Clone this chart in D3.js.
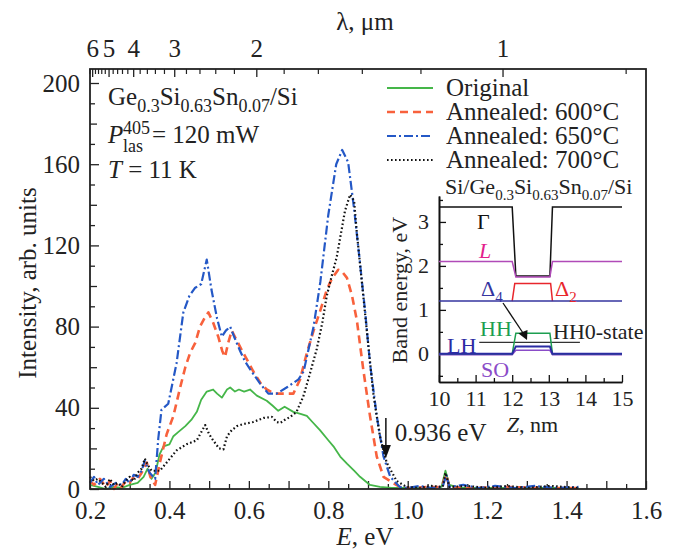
<!DOCTYPE html>
<html>
<head>
<meta charset="utf-8">
<script src="https://cdn.jsdelivr.net/npm/d3@7"></script>
<style>
body { margin: 0; background: #fff; }
text { font-family: "Liberation Serif", "Times New Roman", serif; font-size: 25px; fill: #222; }
.inset text { font-size: 22px; }
</style>
</head>
<body>
<div id="canvas"></div>
<script>
// DATA ========================================================================

var ORIGINAL = [
    [0.20, 2], [0.22, 1], [0.24, 0], [0.26, 1], [0.28, 0.5], [0.30, 2], [0.32, 3], [0.335, 6],
    [0.345, 10], [0.355, 5], [0.365, 8], [0.375, 17], [0.385, 21], [0.40, 22], [0.41, 26],
    [0.422, 28], [0.44, 31], [0.455, 34], [0.469, 38], [0.48, 44], [0.494, 48], [0.51, 49],
    [0.52, 47], [0.532, 45], [0.545, 49], [0.553, 50], [0.565, 48], [0.575, 49], [0.588, 48],
    [0.603, 49], [0.62, 46], [0.645, 43.5], [0.66, 41], [0.674, 38.5], [0.69, 40.5], [0.712, 38],
    [0.73, 37], [0.746, 36], [0.76, 33], [0.779, 29], [0.80, 24], [0.813, 21], [0.83, 16],
    [0.847, 12.5], [0.865, 9], [0.88, 6], [0.905, 2], [0.93, 1], [0.96, 0.5], [1.0, 0.5],
    [1.05, 0.5], [1.085, 1], [1.095, 9], [1.105, 2], [1.13, 0.5], [1.2, 0.5], [1.3, 0.5], [1.43, 0.5]
]

var ANNEALED_600 = [
    [0.20, 4], [0.21, 2], [0.225, 5], [0.24, 1], [0.25, 4], [0.26, 0], [0.27, 3], [0.28, 1],
    [0.29, 4], [0.30, 3], [0.31, 6], [0.32, 5], [0.33, 8], [0.343, 13], [0.352, 6], [0.364, 2],
    [0.376, 13], [0.393, 27], [0.41, 36], [0.427, 50], [0.44, 60], [0.452, 67], [0.465, 72],
    [0.477, 80], [0.488, 84], [0.498, 87], [0.51, 82], [0.523, 75], [0.533, 68], [0.54, 65],
    [0.548, 72], [0.557, 78], [0.57, 73], [0.586, 67], [0.60, 62], [0.611, 58], [0.63, 52],
    [0.645, 49], [0.665, 47], [0.687, 47], [0.712, 47], [0.729, 54], [0.746, 67], [0.763, 78],
    [0.78, 88], [0.796, 98], [0.81, 104], [0.825, 108], [0.835, 107], [0.847, 104], [0.86, 95],
    [0.872, 83], [0.888, 59], [0.905, 36], [0.922, 16], [0.939, 6], [0.963, 3], [0.98, 1],
    [1.0, 0.5], [1.05, 1], [1.085, 1], [1.097, 7], [1.105, 1], [1.15, 0.5], [1.25, 1], [1.35, 0.5], [1.43, 0.5]
]

var ANNEALED_650 = [
    [0.20, 3], [0.21, 6], [0.22, 2], [0.235, 5], [0.25, 1], [0.265, 3], [0.28, 2], [0.29, 5],
    [0.30, 3], [0.31, 7], [0.32, 6], [0.33, 9], [0.338, 14], [0.35, 8], [0.364, 5], [0.372, 25],
    [0.38, 39], [0.397, 42], [0.418, 62], [0.435, 87], [0.45, 95], [0.464, 99], [0.48, 101],
    [0.494, 113], [0.506, 98], [0.52, 84], [0.532, 75], [0.542, 78], [0.553, 80], [0.565, 74],
    [0.578, 68], [0.59, 63], [0.603, 59], [0.628, 52], [0.649, 47], [0.67, 47], [0.695, 50],
    [0.725, 54], [0.738, 58], [0.746, 65], [0.763, 80], [0.78, 102], [0.80, 135], [0.82, 160],
    [0.835, 167], [0.85, 161], [0.865, 138], [0.88, 111], [0.893, 87], [0.905, 62], [0.922, 36],
    [0.939, 16], [0.956, 6], [0.98, 1], [1.0, 0.5], [1.03, 1.5], [1.06, 0.5], [1.088, 1],
    [1.097, 7], [1.105, 1], [1.14, 2], [1.18, 0.5], [1.22, 1.5], [1.27, 0.5], [1.32, 1.5],
    [1.37, 0.5], [1.43, 1]
]

var ANNEALED_700 = [
    [0.20, 6], [0.21, 4], [0.22, 5], [0.23, 3], [0.24, 1], [0.25, 5], [0.26, 2], [0.27, 3],
    [0.28, 1], [0.29, 4], [0.30, 6], [0.31, 4], [0.32, 8], [0.33, 10], [0.338, 15], [0.345, 12],
    [0.355, 9], [0.376, 9], [0.397, 14], [0.418, 19], [0.443, 22], [0.469, 24], [0.48, 28],
    [0.49, 31.5], [0.50, 27], [0.51, 24], [0.525, 20], [0.536, 19.5], [0.545, 26], [0.557, 29],
    [0.57, 31], [0.586, 32], [0.611, 33], [0.637, 35], [0.658, 35.5], [0.67, 33], [0.679, 32.5],
    [0.69, 34], [0.704, 35.5], [0.72, 38], [0.737, 45.5], [0.754, 57], [0.771, 69], [0.785, 82],
    [0.796, 95], [0.81, 106], [0.821, 114], [0.832, 126], [0.842, 137], [0.855, 145],
    [0.865, 142], [0.872, 126], [0.884, 103], [0.897, 78], [0.914, 46], [0.93, 26], [0.947, 13],
    [0.972, 4], [0.997, 1], [1.03, 0.5], [1.06, 1.5], [1.088, 1], [1.095, 8], [1.105, 1],
    [1.15, 1.5], [1.2, 0.5], [1.25, 1.5], [1.3, 0.5], [1.36, 1.5], [1.43, 0.5]
]

var SERIES_NAMES = ["Original", "Annealed: 600°C", "Annealed: 650°C", "Annealed: 700°C"]

var X_TICKS = [0.2, 0.4, 0.6, 0.8, 1.0, 1.2, 1.4, 1.6]
var Y_TICKS = [0, 40, 80, 120, 160, 200]
var LAMBDA_LABELS = [6, 5, 4, 3, 2, 1]

// band diagram, [z (nm), energy (eV)]
var BAND_GAMMA = [[10, 3.34], [12.0, 3.34], [12.1, 1.77], [13.03, 1.77], [13.1, 3.34], [15, 3.34]]
var BAND_L = [[10, 2.1], [12.0, 2.1], [12.1, 1.75], [13.03, 1.75], [13.1, 2.1], [15, 2.1]]
var BAND_D4 = [[10, 1.2], [15, 1.2]]
var BAND_D2 = [[12.0, 1.2], [12.07, 1.6], [13.05, 1.6], [13.1, 1.2]]
var BAND_SO = [[10, -0.02], [12.0, -0.02], [12.1, 0.08], [13.03, 0.08], [13.1, -0.02], [15, -0.02]]
var BAND_HH = [[10, 0], [12.0, 0], [12.1, 0.47], [13.03, 0.47], [13.1, 0], [15, 0]]
var BAND_LH = [[10, 0], [12.0, 0], [12.1, 0.17], [13.03, 0.17], [13.1, 0], [15, 0]]
var HH0_STATE = [[11.1, 0.26], [13.85, 0.26]]

var INSET_X_TICKS = [10, 11, 12, 13, 14, 15]
var INSET_Y_TICKS = [0, 1, 2, 3]

var MARKED_E = 0.945

// STYLES ======================================================================

var COLORS = {
    "series": ["#45b649", "#f8613c", "#2458c6", "#111111"],
    "gamma": "#111111",
    "L": "#b04ab8",
    "Llabel": "#e3208c",
    "D4": "#35359f",
    "D2": "#e8262c",
    "HH": "#1c9e50",
    "LH": "#2b2ba3",
    "SO": "#8a4cc8",
    "HH0": "#333333"
}

var DASHES = [null, "8,5", "9,3,2,3", "1.6,2.4"]
var WIDTHS = [1.8, 2.6, 2.2, 2.2]

var MARGIN = { "left": 90, "right": 28, "top": 69, "bottom": 62 }
var WIDTH = 674
var HEIGHT = 551

// MAIN PLOT ===================================================================

function translate(x, y) {
    return "translate(" + x + "," + y + ")"
}

var SVG = d3.select("#canvas").append("svg")
    .attr("width", WIDTH)
    .attr("height", HEIGHT)

var x = d3.scaleLinear().domain([0.2, 1.6]).range([MARGIN.left, WIDTH - MARGIN.right])
var y = d3.scaleLinear().domain([0, 206.9]).range([HEIGHT - MARGIN.bottom, MARGIN.top])

var SERIES = [ORIGINAL, ANNEALED_600, ANNEALED_650, ANNEALED_700].map((d, i) => ({
    "name": SERIES_NAMES[i],
    "data": d,
    "color": COLORS.series[i],
    "dash": DASHES[i],
    "width": WIDTHS[i]
}))

// Axes: ticks point inward.
function styleAxis(g) {
    g.select(".domain").remove()
    g.selectAll(".tick line").attr("stroke", "#222").attr("stroke-width", 1.3)
    g.attr("font-size", null).attr("font-family", null)
}

SVG.append("g")
    .attr("transform", translate(0, y.range()[0]))
    .call(d3.axisBottom(x).tickValues(d3.range(0.25, 1.6, 0.1)).tickSize(-5).tickFormat(""))
    .call(styleAxis)

SVG.append("g")
    .attr("transform", translate(0, y.range()[0]))
    .call(d3.axisBottom(x).tickValues(d3.range(0.3, 1.55, 0.2)).tickSize(-8).tickFormat(""))
    .call(styleAxis)

SVG.append("g")
    .attr("transform", translate(0, y.range()[0]))
    .call(d3.axisBottom(x).tickValues(X_TICKS).tickSize(-8).tickPadding(12).tickFormat(d3.format(".1f")))
    .call(styleAxis)

SVG.append("g")
    .attr("transform", translate(x.range()[0], 0))
    .call(d3.axisLeft(y).tickValues(d3.range(10, 201, 20)).tickSize(-5).tickFormat(""))
    .call(styleAxis)

SVG.append("g")
    .attr("transform", translate(x.range()[0], 0))
    .call(d3.axisLeft(y).tickValues(d3.range(20, 201, 40)).tickSize(-7).tickFormat(""))
    .call(styleAxis)

SVG.append("g")
    .attr("transform", translate(x.range()[0], 0))
    .call(d3.axisLeft(y).tickValues(Y_TICKS).tickSize(-9).tickPadding(10))
    .call(styleAxis)

// Top axis in wavelength, lambda = 1.24 / E.
var lambdaMinor = d3.range(0.8, 6.25, 0.2).filter(l => Math.abs(l - Math.round(l)) > 0.01)
var topAxis = SVG.append("g")

topAxis.selectAll("line.minor")
    .data(lambdaMinor).enter()
    .append("line")
        .attr("class", "minor")
        .attr("x1", d => x(1.24/d))
        .attr("x2", d => x(1.24/d))
        .attr("y1", y.range()[1])
        .attr("y2", y.range()[1] + 5)
        .attr("stroke", "#222")
        .attr("stroke-width", 1.2)

topAxis.selectAll("line.major")
    .data(LAMBDA_LABELS).enter()
    .append("line")
        .attr("class", "major")
        .attr("x1", d => x(1.24/d))
        .attr("x2", d => x(1.24/d))
        .attr("y1", y.range()[1])
        .attr("y2", y.range()[1] + 8)
        .attr("stroke", "#222")
        .attr("stroke-width", 1.3)

topAxis.selectAll("text")
    .data(LAMBDA_LABELS).enter()
    .append("text")
        .attr("x", d => x(1.24/d))
        .attr("y", 57)
        .attr("text-anchor", "middle")
        .text(d => d)

// Curves.
var line = d3.line().x(d => x(d[0])).y(d => y(d[1]))

SVG.append("g").selectAll("path")
    .data(SERIES).enter()
    .append("path")
        .attr("d", d => line(d.data))
        .attr("fill", "none")
        .attr("stroke", d => d.color)
        .attr("stroke-width", d => d.width)
        .attr("stroke-dasharray", d => d.dash)
        .attr("stroke-linejoin", "round")

// Frame.
SVG.append("rect")
    .attr("x", x.range()[0])
    .attr("y", y.range()[1])
    .attr("width", x.range()[1] - x.range()[0])
    .attr("height", y.range()[0] - y.range()[1])
    .attr("fill", "none")
    .attr("stroke", "#222")
    .attr("stroke-width", 1.8)

// Axis titles.
SVG.append("text")
    .attr("x", (x.range()[0] + x.range()[1])/2 - 3)
    .attr("y", 30)
    .attr("text-anchor", "middle")
    .text("λ, μm")

var xTitle = SVG.append("text")
    .attr("x", (x.range()[0] + x.range()[1])/2 - 3)
    .attr("y", 545)
    .attr("text-anchor", "middle")
xTitle.append("tspan").attr("font-style", "italic").text("E")
xTitle.append("tspan").text(", eV")

SVG.append("text")
    .attr("transform", translate(36, (y.range()[0] + y.range()[1])/2 + 4) + " rotate(-90)")
    .attr("text-anchor", "middle")
    .text("Intensity, arb. units")

// Sample annotation.
var sample = SVG.append("text").attr("x", 108).attr("y", 105)
sample.append("tspan").text("Ge")
sample.append("tspan").style("font-size", "18px").attr("dy", 7).text("0.3")
sample.append("tspan").attr("dy", -7).text("Si")
sample.append("tspan").style("font-size", "18px").attr("dy", 7).text("0.63")
sample.append("tspan").attr("dy", -7).text("Sn")
sample.append("tspan").style("font-size", "18px").attr("dy", 7).text("0.07")
sample.append("tspan").attr("dy", -7).text("/Si")

SVG.append("text").attr("x", 108).attr("y", 143).attr("font-style", "italic").text("P")
SVG.append("text").attr("x", 123).attr("y", 134).style("font-size", "18px").text("405")
SVG.append("text").attr("x", 123).attr("y", 152).style("font-size", "18px").text("las")
SVG.append("text").attr("x", 152).attr("y", 143).text("= 120 mW")

var temp = SVG.append("text").attr("x", 108).attr("y", 178)
temp.append("tspan").attr("font-style", "italic").text("T")
temp.append("tspan").text(" = 11 K")

// Legend.
var legend = SVG.append("g").selectAll("g")
    .data(SERIES).enter()
    .append("g")
        .attr("transform", (d, i) => translate(387, 88 + 24*i))

legend.append("line")
    .attr("x1", 0)
    .attr("x2", 46)
    .attr("stroke", d => d.color)
    .attr("stroke-width", d => d.width)
    .attr("stroke-dasharray", d => d.dash)

legend.append("text")
    .attr("x", 59)
    .attr("y", 8)
    .text(d => d.name)

// Marker at the absorption edge.
var mx = x(MARKED_E)
SVG.append("line")
    .attr("x1", mx).attr("x2", mx)
    .attr("y1", 418).attr("y2", 447)
    .attr("stroke", "#111")
    .attr("stroke-width", 1.5)
SVG.append("path")
    .attr("d", "M" + (mx - 5) + ",445 L" + (mx + 5) + ",445 L" + mx + ",458 Z")
    .attr("fill", "#111")
SVG.append("text").attr("x", mx + 9).attr("y", 441).text("0.936 eV")

// INSET: BAND DIAGRAM =========================================================

var bx = d3.scaleLinear().domain([10, 15]).range([439, 622])
var by = d3.scaleLinear().domain([-0.64, 3.59]).range([382, 196])

var inset = SVG.append("g").attr("class", "inset")

function styleInset(g) {
    g.selectAll(".tick line").attr("stroke", "#111").attr("stroke-width", 1.3)
    g.select(".domain").attr("stroke", "#111").attr("stroke-width", 1.6)
    g.attr("font-size", null).attr("font-family", null)
}

inset.append("g")
    .attr("transform", translate(0, by.range()[0]))
    .call(d3.axisBottom(bx).tickValues(d3.range(10.5, 15, 1)).tickSize(-4).tickSizeOuter(0).tickFormat(""))
    .call(styleInset)

inset.append("g")
    .attr("transform", translate(0, by.range()[0]))
    .call(d3.axisBottom(bx).tickValues(INSET_X_TICKS).tickSize(-7).tickSizeOuter(0).tickPadding(8).tickFormat(d3.format("d")))
    .call(styleInset)

inset.append("g")
    .attr("transform", translate(bx.range()[0], 0))
    .call(d3.axisLeft(by).tickValues([-0.5, 0.5, 1.5, 2.5, 3.5]).tickSize(-4).tickSizeOuter(0).tickFormat(""))
    .call(styleInset)

inset.append("g")
    .attr("transform", translate(bx.range()[0], 0))
    .call(d3.axisLeft(by).tickValues(INSET_Y_TICKS).tickSize(-7).tickSizeOuter(0).tickPadding(10).tickFormat(d3.format("d")))
    .call(styleInset)

var bandLine = d3.line().x(d => bx(d[0])).y(d => by(d[1]))

var BANDS = [
    { "data": BAND_GAMMA, "color": COLORS.gamma, "width": 1.5 },
    { "data": BAND_L, "color": COLORS.L, "width": 1.5 },
    { "data": BAND_D2, "color": COLORS.D2, "width": 1.5 },
    { "data": BAND_D4, "color": COLORS.D4, "width": 1.5 },
    { "data": HH0_STATE, "color": COLORS.HH0, "width": 1.3 },
    { "data": BAND_SO, "color": COLORS.SO, "width": 1.5 },
    { "data": BAND_HH, "color": COLORS.HH, "width": 1.5 },
    { "data": BAND_LH, "color": COLORS.LH, "width": 2 }
]

inset.append("g").selectAll("path")
    .data(BANDS).enter()
    .append("path")
        .attr("d", d => bandLine(d.data))
        .attr("fill", "none")
        .attr("stroke", d => d.color)
        .attr("stroke-width", d => d.width)

// Transition arrow from Delta4 to HH0.
inset.append("line")
    .attr("x1", 503).attr("y1", 303)
    .attr("x2", 523).attr("y2", 333)
    .attr("stroke", "#111")
    .attr("stroke-width", 1.3)
inset.append("path")
    .attr("d", "M518.5,333.5 L527.5,330 L527,340 Z")
    .attr("fill", "#111")

// Inset labels.
function label(txt, px, py, color, opts) {
    let t = inset.append("text")
        .attr("x", px)
        .attr("y", py)
        .style("fill", color)
    if (opts && opts.italic) { t.attr("font-style", "italic") }
    if (opts && opts.sub) {
        t.append("tspan").text(txt)
        t.append("tspan").style("font-size", "15px").attr("dy", 6).text(opts.sub)
    } else {
        t.text(txt)
    }
    return t
}

var title = inset.append("text").attr("x", 445).attr("y", 194)
title.append("tspan").text("Si/Ge")
title.append("tspan").style("font-size", "15px").attr("dy", 6).text("0.3")
title.append("tspan").attr("dy", -6).text("Si")
title.append("tspan").style("font-size", "15px").attr("dy", 6).text("0.63")
title.append("tspan").attr("dy", -6).text("Sn")
title.append("tspan").style("font-size", "15px").attr("dy", 6).text("0.07")
title.append("tspan").attr("dy", -6).text("/Si")

label("Γ", 477, 229, "#111")
label("L", 479, 258, COLORS.Llabel, { "italic": true })
label("Δ", 481, 296, COLORS.D4, { "sub": "4" })
label("Δ", 555, 296, COLORS.D2, { "sub": "2" })
label("HH", 480, 336, COLORS.HH)
label("HH0-state", 553, 339, "#222")
label("LH", 447, 353, COLORS.LH)
label("SO", 481, 377, COLORS.SO)

inset.append("text")
    .attr("transform", translate(407, by(1.45)) + " rotate(-90)")
    .attr("text-anchor", "middle")
    .text("Band energy, eV")

var zTitle = inset.append("text")
    .attr("x", (bx.range()[0] + bx.range()[1])/2 + 2)
    .attr("y", 432)
    .attr("text-anchor", "middle")
zTitle.append("tspan").attr("font-style", "italic").text("Z")
zTitle.append("tspan").text(", nm")
</script>
</body>
</html>
